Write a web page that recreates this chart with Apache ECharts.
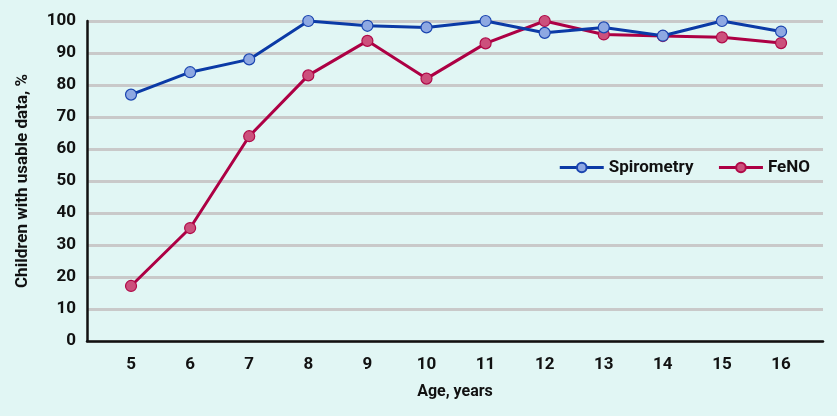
<!DOCTYPE html>
<html><head><meta charset="utf-8">
<script src="https://cdn.jsdelivr.net/npm/echarts@6/dist/echarts.min.js"></script>
<style>html,body{margin:0;padding:0;background:#e1f6f4;}#c{width:837px;height:416px;}</style>
</head><body><div id="c"></div>
<script>
const ages = [5, 6, 7, 8, 9, 10, 11, 12, 13, 14, 15, 16];
const spirometry = [77, 84, 88, 100, 98.5, 98, 100, 96.3, 98, 95.4, 100, 96.7];
const feno = [17.2, 35.3, 64, 83, 93.8, 82, 93, 100, 95.8, 95.3, 94.9, 93.1];
const yTicks = [0, 10, 20, 30, 40, 50, 60, 70, 80, 90, 100];

const font = 'Roboto';
const chart = echarts.init(document.getElementById('c'), null, {renderer: 'canvas'});
chart.setOption({
  backgroundColor: '#e1f6f4',
  animation: false,
  grid: {left: 87, right: 14, top: 21, bottom: 75, containLabel: false},
  legend: {
    right: 22, top: 154, itemGap: 24, itemWidth: 44, itemHeight: 12,
    lineStyle: {width: 3},
    textStyle: {fontFamily: font, fontWeight: 'bold', fontSize: 17, color: '#111'},
    data: ['Spirometry', 'FeNO']
  },
  xAxis: {
    type: 'value', min: 4.255, max: 16.71,
    name: 'Age, years', nameLocation: 'middle', nameGap: 43,
    nameTextStyle: {fontFamily: font, fontWeight: 'bold', fontSize: 16, color: '#111'},
    axisLine: {show: true, lineStyle: {color: '#111', width: 2.5}},
    axisTick: {show: false},
    splitLine: {show: false},
    axisLabel: {customValues: ages, margin: 15, fontFamily: font, fontWeight: 'bold', fontSize: 17, color: '#111'}
  },
  yAxis: {
    type: 'value', min: 0, max: 100, interval: 10,
    name: 'Children with usable data, %', nameLocation: 'middle', nameGap: 56,
    nameTextStyle: {fontFamily: font, fontWeight: 'bold', fontSize: 17, color: '#111'},
    axisLine: {show: true, lineStyle: {color: '#111', width: 2.5}},
    axisTick: {show: false},
    splitLine: {show: true, lineStyle: {color: '#c9c9c9', width: 3}},
    axisLabel: {customValues: yTicks, margin: 11, fontFamily: font, fontWeight: 'bold', fontSize: 17, color: '#111'}
  },
  series: [
    {
      name: 'Spirometry', type: 'line', symbol: 'circle', symbolSize: 11, z: 3,
      data: ages.map((a, i) => [a, spirometry[i]]),
      lineStyle: {color: '#0b3aa6', width: 3},
      itemStyle: {color: '#8ea8e2', borderColor: '#1a45b0', borderWidth: 1.2}
    },
    {
      name: 'FeNO', type: 'line', symbol: 'circle', symbolSize: 11, z: 2,
      data: ages.map((a, i) => [a, feno[i]]),
      lineStyle: {color: '#ad0044', width: 3},
      itemStyle: {color: '#cc507c', borderColor: '#b00a48', borderWidth: 1.2}
    }
  ]
});
</script></body></html>
